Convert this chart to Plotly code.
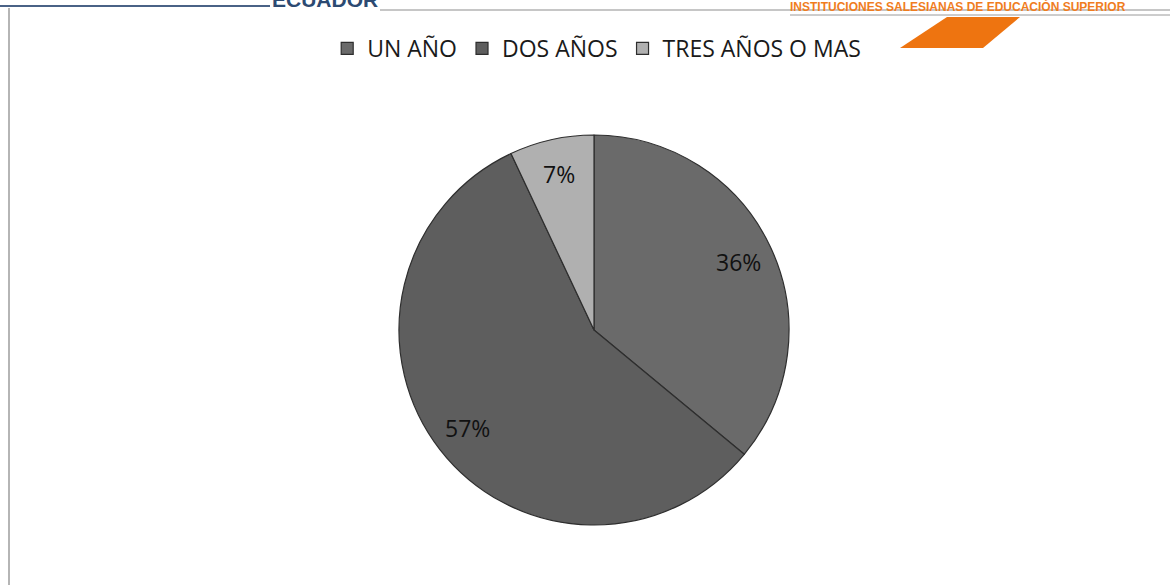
import numpy as np
import plotly.graph_objects as go

# data
labels = ['UN AÑO', 'DOS AÑOS', 'TRES AÑOS O MAS']
values = [36, 57, 7]
colors = ['#6a6a6a', '#5e5e5e', '#b0b0b0']

W, H = 1170, 585
cx, cy, rad = 594, 330, 195   # pie centre / radius in pixels


def px(x):
    return x / W


def py(y):
    return 1 - y / H


fig = go.Figure()
fig.add_trace(go.Pie(
    labels=labels,
    values=values,
    sort=False,
    direction='clockwise',
    rotation=0,
    marker=dict(colors=colors, line=dict(color='#2e2e2e', width=1.2)),
    textinfo='none',
    hoverinfo='label+percent',
    domain=dict(x=[px(cx - rad), px(cx + rad)], y=[py(cy + rad), py(cy - rad)]),
))

# percentage labels placed along each slice's mid angle (Excel "best fit" look)
total = sum(values)
start = 0.0
for v in values:
    frac = v / total
    mid = (start + frac / 2) * 2 * np.pi
    start += frac
    r = rad * 0.82
    fig.add_annotation(x=px(cx + r * np.sin(mid)), y=py(cy - r * np.cos(mid)),
                       xref='paper', yref='paper', xanchor='center', yanchor='middle',
                       showarrow=False, text=f'{round(frac * 100)}%',
                       font=dict(family='Open Sans', size=23, color='#111111'))

# header of the scanned page
shapes = [
    dict(type='line', x0=0, x1=px(270), y0=py(6), y1=py(6),
         line=dict(color='#4a6286', width=2)),
    dict(type='line', x0=px(380), x1=1, y0=py(10), y1=py(10),
         line=dict(color='#8d8d8d', width=1)),
    dict(type='line', x0=px(790), x1=1, y0=py(15), y1=py(15),
         line=dict(color='#9a9a9a', width=1)),
    dict(type='line', x0=px(9), x1=px(9), y0=py(8), y1=0,
         line=dict(color='#9c9c9c', width=1.5)),
    dict(type='path',
         path=f'M {px(947)},{py(17)} L {px(1020)},{py(17)} L {px(983)},{py(48)} L {px(900)},{py(48)} Z',
         xref='paper', yref='paper', fillcolor='#ee7410', line=dict(width=0)),
]
for s in shapes:
    s.setdefault('xref', 'paper')
    s.setdefault('yref', 'paper')

fig.add_annotation(x=px(270), y=py(13), xref='paper', yref='paper', xanchor='left', yanchor='bottom',
                   showarrow=False, text='<b>ECUADOR</b>',
                   font=dict(family='Liberation Sans', size=21, color='#2c4a72'))
fig.add_annotation(x=px(788), y=py(16), xref='paper', yref='paper', xanchor='left', yanchor='bottom',
                   showarrow=False, text='<b>INSTITUCIONES SALESIANAS DE EDUCACIÓN SUPERIOR</b>',
                   font=dict(family='Liberation Sans', size=12, color='#f07d1e'))

fig.update_layout(
    width=W, height=H,
    margin=dict(l=0, r=0, t=0, b=0),
    paper_bgcolor='white',
    plot_bgcolor='white',
    shapes=shapes,
    showlegend=True,
    legend=dict(orientation='h', x=0.51, xanchor='center', y=py(27), yanchor='top',
                font=dict(family='Open Sans', size=23, color='#1a1a1a'),
                itemwidth=30, tracegroupgap=0),
)

# drop the page's default body margin so the figure sits at the window corner
fig.write_html('out.html', config={'displayModeBar': False},
               post_script="document.body.style.margin='0';")
